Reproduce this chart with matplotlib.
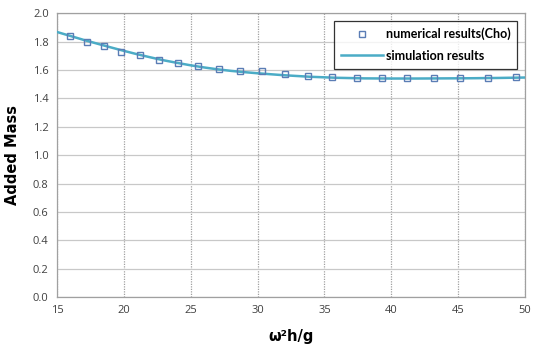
import numpy as np
import matplotlib.pyplot as plt

# numerical results (Cho) - square markers
x_cho = [15.97, 17.23, 18.5, 19.79, 21.2, 22.6, 24.03, 25.56, 27.1, 28.67, 30.3,
         32.07, 33.8, 35.6, 37.4, 39.3, 41.2, 43.2, 45.15, 47.2, 49.33]
y_cho = [1.838, 1.800, 1.768, 1.730, 1.704, 1.674, 1.648, 1.627, 1.608, 1.596, 1.596,
         1.570, 1.556, 1.549, 1.545, 1.544, 1.544, 1.544, 1.544, 1.544, 1.549]

# simulation results - line
x_sim = [15, 16, 17, 18, 19, 20, 21, 22, 23, 24, 25, 26, 27, 28, 29, 30,
         32, 34, 36, 38, 40, 42, 44, 46, 48, 50]
y_sim = [1.868, 1.840, 1.812, 1.786, 1.760, 1.735, 1.711, 1.689, 1.668, 1.650, 1.633,
         1.618, 1.605, 1.594, 1.585, 1.577, 1.563, 1.552, 1.545, 1.541, 1.540, 1.540,
         1.541, 1.542, 1.544, 1.547]

fig = plt.figure(figsize=(5.33, 3.49), dpi=100)
ax = fig.add_axes([0.107, 0.149, 0.878, 0.813])

ax.plot(x_sim, y_sim, color='#4bacc6', lw=1.8, label='simulation results', zorder=3)
ax.plot(x_cho, y_cho, ls='none', marker='s', ms=4.8, mfc='none', mec='#5b7db5',
        mew=1.0, label='numerical results(Cho)', zorder=4)

ax.set_xlim(15, 50)
ax.set_ylim(0, 2.0)
ax.set_xticks(np.arange(15, 51, 5))
ax.set_yticks(np.arange(0, 2.01, 0.2))
ax.set_yticklabels(['%.1f' % v for v in np.arange(0, 2.01, 0.2)])
ax.tick_params(length=0, labelsize=8, colors='#404040', pad=6)
for t in ax.get_xticklabels() + ax.get_yticklabels():
    t.set_family('Open Sans')

ax.yaxis.grid(True, color='#c8c8c8', lw=0.9)
ax.xaxis.grid(True, color='#a0a0a0', lw=0.9, ls=(0, (1, 1)))
ax.set_axisbelow(True)
for s in ax.spines.values():
    s.set_color('#a0a0a0')
    s.set_linewidth(0.9)

ax.set_ylabel('Added Mass', fontsize=10.5, fontweight='bold', labelpad=9)
ax.set_xlabel('ω²h/g', fontsize=10.5, fontweight='bold', labelpad=9)

h, l = ax.get_legend_handles_labels()
leg = ax.legend(h[::-1], l[::-1], loc='upper right', bbox_to_anchor=(0.997, 0.995),
                frameon=True, fancybox=False, edgecolor='black',
                handlelength=3.4, borderpad=0.55, labelspacing=0.75, handletextpad=0.2,
                markerscale=0.8, prop={'family': 'Lato', 'weight': 'bold', 'size': 9})
leg.get_frame().set_linewidth(0.9)

plt.savefig('out.png', dpi=100)
